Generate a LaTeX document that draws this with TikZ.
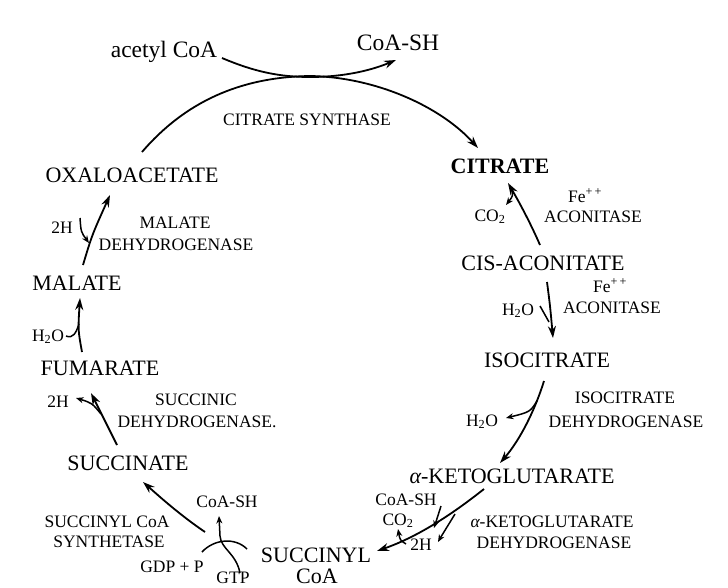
\documentclass[tikz,border=0pt]{standalone}
\usepackage{fontspec}
\setmainfont{Liberation Serif}
\usetikzlibrary{arrows.meta}
\begin{document}
\begin{tikzpicture}[x=1pt,y=-1pt,
  big/.style={font=\fontsize{22}{24}\selectfont, inner sep=0pt, anchor=base},
  topl/.style={font=\fontsize{23.5}{25}\selectfont, inner sep=0pt, anchor=base},
  lbl/.style={font=\fontsize{17.5}{19}\selectfont, inner sep=0pt, anchor=base},
  flow/.style={line width=1.8pt, -{Stealth[length=12pt,width=8pt]}},
  side/.style={line width=1.5pt, -{Stealth[length=7.5pt,width=6pt]}},
  joinl/.style={line width=1.5pt}]
\useasboundingbox[fill=white] (0,0) rectangle (728,587);

% ---------- texts ----------
\node[topl] (acetyl) at (164,57) {acetyl CoA};
\node[topl] (coashA) at (398,50) {CoA-SH};
\node[lbl] (cs) at (307,125) {CITRATE SYNTHASE};
\node[big] (oxalo) at (132,182) {OXALOACETATE};
\node[big,font=\fontsize{22}{24}\selectfont\bfseries] (citrate) at (500,173) {CITRATE};
\node[lbl] (co2A) at (490,221) {CO\textsubscript{2}};
\node[lbl] (feA) at (585,202) {Fe\textsuperscript{+\,+}};
\node[lbl] (aconA) at (593,222) {ACONITASE};
\node[big] (cisacon) at (543,270) {CIS-ACONITATE};
\node[lbl] (feB) at (610,292) {Fe\textsuperscript{+\,+}};
\node[lbl] (aconB) at (612,313) {ACONITASE};
\node[lbl] (h2oA) at (518,315) {H\textsubscript{2}O};
\node[big] (isocit) at (547,367) {ISOCITRATE};
\node[lbl] (icdA) at (625,403) {ISOCITRATE};
\node[lbl] (icdB) at (626,427) {DEHYDROGENASE};
\node[lbl] (h2oB) at (482,426) {H\textsubscript{2}O};
\node[big] (akg) at (512,483) {{\itshape α}-KETOGLUTARATE};
\node[lbl] (akgdA) at (552,527) {{\itshape α}-KETOGLUTARATE};
\node[lbl] (akgdB) at (554,548) {DEHYDROGENASE};
\node[lbl] (coashB) at (406,505) {CoA-SH};
\node[lbl] (co2B) at (398,525) {CO\textsubscript{2}};
\node[lbl] (twoHC) at (421,550) {2H};
\node[big] (succinyl) at (316,562) {SUCCINYL};
\node[big] (succoa) at (317,583) {CoA};
\node[lbl] (coashC) at (227,507) {CoA-SH};
\node[lbl] (gdp) at (172,572) {GDP + P};
\node[lbl] (gtp) at (233,583) {GTP};
\node[lbl] (scsA) at (107,527) {SUCCINYL CoA};
\node[lbl] (scsB) at (109,547) {SYNTHETASE};
\node[big] (succinate) at (128,470) {SUCCINATE};
\node[lbl] (sdhA) at (196,405) {SUCCINIC};
\node[lbl] (sdhB) at (197,427) {DEHYDROGENASE.};
\node[lbl] (twoHA) at (58,407) {2H};
\node[big] (fumarate) at (100,375) {FUMARATE};
\node[lbl] (h2oC) at (48,341) {H\textsubscript{2}O};
\node[big] (malate) at (77,290) {MALATE};
\node[lbl] (twoHB) at (62,233) {2H};
\node[lbl] (mdhA) at (175,228) {MALATE};
\node[lbl] (mdhB) at (176,250) {DEHYDROGENASE};

% ---------- connector end points ----------
\coordinate (oxTop) at (142,152);
\coordinate (ringTop) at (310,76);
\coordinate (citIn) at (478,148);
\coordinate (acStart) at (222,58);
\coordinate (acMid) at (310,77);
\coordinate (acEnd) at (396,60);

\coordinate (caUp0) at (540,245);
\coordinate (caUp1) at (508,183);
\coordinate (co2Aa) at (512,188);
\coordinate (co2Ab) at (506,205);

\coordinate (caDn0) at (547,282);
\coordinate (caDn1) at (553,338);
\coordinate (h2oAa) at (540,306);
\coordinate (h2oAb) at (549,322);

\coordinate (ic0) at (544,381);
\coordinate (ic1) at (500,463);
\coordinate (h2oBa) at (537,401);
\coordinate (h2oBb) at (506,418);

\coordinate (kg0) at (484,489);
\coordinate (kg1) at (377,551);
\coordinate (coaBa) at (441,506);
\coordinate (coaBb) at (434,528);
\coordinate (hCa) at (455,514);
\coordinate (hCb) at (438,542);
\coordinate (co2Ba) at (406,544);
\coordinate (co2Bb) at (398,529);

\coordinate (sc0) at (205,532);
\coordinate (sc1) at (143,482);
\coordinate (gdpA) at (202,552);
\coordinate (gdpB) at (247,549);
\coordinate (gtpA) at (240,573);
\coordinate (gtpB) at (220,536);
\coordinate (coaC) at (219,516);

\coordinate (su0) at (117,445);
\coordinate (su1) at (91,393);
\coordinate (hAa) at (101,414);
\coordinate (hAb) at (76,398);

\coordinate (fu0) at (82,352);
\coordinate (fu1) at (80,298);
\coordinate (h2oCa) at (66,336);
\coordinate (h2oCb) at (79,324);

\coordinate (ma0) at (83,265);
\coordinate (ma1) at (110,195);
\coordinate (hBa) at (80,218);
\coordinate (hBb) at (89,243);

% ---------- connectors ----------
% citrate synthase: oxaloacetate -> citrate, acetyl CoA -> CoA-SH
\draw[flow] (oxTop) .. controls (185,102) and (240,77) .. (ringTop)
  .. controls (375,77) and (440,106) .. (citIn);
\draw[flow] (acStart) .. controls (255,72) and (280,77) .. (acMid)
  .. controls (345,77) and (372,70) .. (acEnd);

% aconitase
\draw[flow] (caUp0) .. controls (530,222) and (518,200) .. (caUp1);
\draw[side] (co2Aa) .. controls (513,196) .. (co2Ab);
\draw[flow] (caDn0) .. controls (550,305) .. (caDn1);
\draw[joinl] (h2oAa) -- (h2oAb);

% isocitrate dehydrogenase
\draw[flow] (ic0) .. controls (535,410) and (520,440) .. (ic1);
\draw[side] (h2oBa) .. controls (530,412) .. (h2oBb);

% alpha-ketoglutarate dehydrogenase
\draw[flow] (kg0) .. controls (455,512) and (420,536) .. (kg1);
\draw[side] (coaBa) -- (coaBb);
\draw[side] (hCa) .. controls (447,526) .. (hCb);
\draw[side] (co2Ba) .. controls (400,540) .. (co2Bb);

% succinyl CoA synthetase
\draw[flow] (sc0) .. controls (180,515) and (160,497) .. (sc1);
\draw[joinl] (gdpA) .. controls (214,539) and (235,537) .. (gdpB);
\draw[side] (gtpA) .. controls (236,553) and (221,549) .. (gtpB) -- (coaC);

% succinic dehydrogenase
\draw[flow] (su0) -- (su1);
\draw[side] (hAa) .. controls (92,403) .. (hAb);

% fumarase
\draw[flow] (fu0) .. controls (78,330) .. (fu1);
\draw[joinl] (h2oCa) .. controls (73,339) and (76,333) .. (h2oCb);

% malate dehydrogenase
\draw[flow] (ma0) .. controls (92,235) .. (ma1);
\draw[side] (hBa) .. controls (81,232) .. (hBb);
\end{tikzpicture}
\end{document}
